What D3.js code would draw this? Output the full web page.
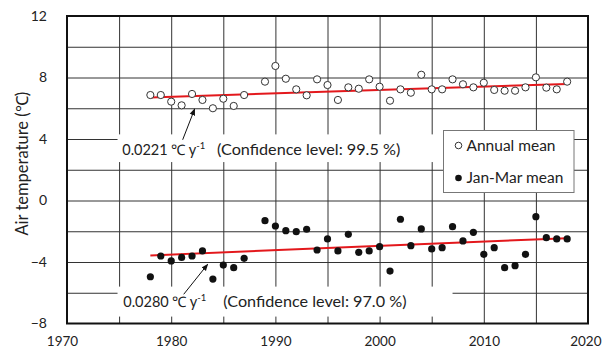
<!DOCTYPE html>
<html>
<head>
<meta charset="utf-8">
<script src="https://cdn.jsdelivr.net/npm/d3@7"></script>
<style>
  html, body { margin: 0; padding: 0; background: #fff; }
  svg text { font-family: Lato, "Open Sans", sans-serif; fill: #222; }
</style>
</head>
<body>
<svg id="chart" width="603" height="354"></svg>
<script>
// Observation years (1988 has no record)
const years = [1978, 1979, 1980, 1981, 1982, 1983, 1984, 1985, 1986, 1987,
               1989, 1990, 1991, 1992, 1993, 1994, 1995, 1996, 1997, 1998,
               1999, 2000, 2001, 2002, 2003, 2004, 2005, 2006, 2007, 2008,
               2009, 2010, 2011, 2012, 2013, 2014, 2015, 2016, 2017, 2018];

// Annual mean air temperature (°C)
const annualMean = [6.86, 6.86, 6.43, 6.19, 6.93, 6.54, 6.00, 6.62, 6.15, 6.86,
                    7.73, 8.75, 7.92, 7.23, 6.84, 7.88, 7.51, 6.54, 7.36, 7.27,
                    7.88, 7.40, 6.49, 7.23, 7.01, 8.18, 7.23, 7.23, 7.88, 7.56,
                    7.36, 7.66, 7.19, 7.14, 7.14, 7.36, 8.01, 7.34, 7.23, 7.73];

// January–March mean air temperature (°C)
const janMarMean = [-4.96, -3.61, -3.93, -3.70, -3.61, -3.28, -5.11, -4.20, -4.37, -3.76,
                    -1.31, -1.66, -1.96, -2.03, -1.87, -3.22, -2.50, -3.28, -2.20, -3.37,
                    -3.28, -3.00, -4.59, -1.22, -2.94, -1.85, -3.15, -3.07, -1.70, -2.63,
                    -2.07, -3.50, -3.07, -4.37, -4.24, -3.50, -1.05, -2.42, -2.50, -2.50];

// Linear trends: slope (°C per year) and fitted value in the first year
const trendSlopes = [0.0221, 0.0280];
const trendStart = [6.70, -3.57];
const confidence = ["99.5", "97.0"];

const seriesNames = ["Annual mean", "Jan-Mar mean"];
const yTickLabels = [-8, -4, 0, 4, 8, 12];
const xTickLabels = [1970, 1980, 1990, 2000, 2010, 2020];

const svg = d3.select("#chart");
const plotLeft = 67, plotRight = 588, plotTop = 16, plotBottom = 323.5;

const x = d3.scaleLinear().domain([1970, 2020]).range([plotLeft, plotRight]);
const y = d3.scaleLinear().domain([-8, 12]).range([plotBottom, plotTop]);

// Grid lines
const grid = svg.append("g");
grid.append("g")
  .attr("transform", `translate(0,${plotBottom})`)
  .call(d3.axisBottom(x).tickValues(d3.range(1975, 2020, 5)).tickSize(-(plotBottom - plotTop)).tickFormat(""))
  .call(g => g.select(".domain").remove())
  .call(g => g.selectAll("line").attr("stroke", "#333").attr("stroke-width", 1));
grid.append("g")
  .attr("transform", `translate(${plotLeft},0)`)
  .call(d3.axisLeft(y).tickValues(d3.range(-6, 12, 2)).tickSize(-(plotRight - plotLeft)).tickFormat(""))
  .call(g => g.select(".domain").remove())
  .call(g => g.selectAll("line").attr("stroke", "#333").attr("stroke-width", 1));

// Axis labels
svg.append("g")
  .attr("transform", `translate(${plotLeft},0)`)
  .call(d3.axisLeft(y).tickValues(yTickLabels).tickSize(0).tickPadding(20).tickFormat(d3.format("d")))
  .call(g => g.select(".domain").remove())
  .call(g => g.selectAll("text").style("font-size", "14px").attr("fill", "#222"));
svg.append("g")
  .attr("transform", `translate(0,${plotBottom})`)
  .call(d3.axisBottom(x).tickValues(xTickLabels).tickSize(0).tickPadding(13).tickFormat(d3.format("d")))
  .call(g => g.select(".domain").remove())
  .call(g => g.selectAll("text").style("font-size", "13.5px").attr("fill", "#222"))
  // keep the outermost year labels inside the page
  .call(g => g.selectAll("text").filter(d => d === xTickLabels[0]).attr("dx", -5))
  .call(g => g.selectAll("text").filter(d => d === xTickLabels[xTickLabels.length - 1])
    .attr("text-anchor", "end").attr("dx", 13));

svg.append("text")
  .attr("transform", `translate(28,${(plotTop + plotBottom) / 2 - 6}) rotate(-90)`)
  .attr("text-anchor", "middle")
  .style("font-size", "16.5px")
  .text("Air temperature (℃)");

// White label boxes for trend annotations
const labelBoxes = [
  { x0: 1974.85, x1: 2006.8, y0: 4.3, y1: 2.5 },
  { x0: 1974.85, x1: 2007.0, y0: -5.6, y1: -7.55 }
];
svg.append("g").selectAll("rect").data(labelBoxes).join("rect")
  .attr("x", d => x(d.x0)).attr("width", d => x(d.x1) - x(d.x0))
  .attr("y", d => y(d.y0)).attr("height", d => y(d.y1) - y(d.y0))
  .attr("fill", "#fff");

// Trend lines
const firstYear = years[0], lastYear = years[years.length - 1];
const trendLine = d3.line().x(d => x(d[0])).y(d => y(d[1]));
trendSlopes.forEach((s, i) => {
  svg.append("path")
    .attr("d", trendLine([[firstYear, trendStart[i]], [lastYear, trendStart[i] + s * (lastYear - firstYear)]]))
    .attr("stroke", "#e3181c").attr("stroke-width", 2).attr("fill", "none");
});

// Data points
const r = 3.6;
svg.append("g").selectAll("circle").data(years).join("circle")
  .attr("cx", d => x(d)).attr("cy", (d, i) => y(annualMean[i])).attr("r", r)
  .attr("fill", "#fff").attr("stroke", "#333").attr("stroke-width", 1);
svg.append("g").selectAll("circle").data(years).join("circle")
  .attr("cx", d => x(d)).attr("cy", (d, i) => y(janMarMean[i])).attr("r", r)
  .attr("fill", "#111");

// Arrows and trend annotations
const defs = svg.append("defs");
defs.append("marker").attr("id", "arrowhead")
  .attr("viewBox", "0 0 10 10").attr("refX", 9).attr("refY", 5)
  .attr("markerWidth", 7).attr("markerHeight", 7).attr("orient", "auto")
  .append("path").attr("d", "M0,1 L10,5 L0,9 Z").attr("fill", "#111");

const notes = [
  { from: [1981.1, 3.95], to: [1982.25, 5.95], tx: 1975.3, ty: 2.96, cx: 1984.4 },
  { from: [1981.2, -6.1], to: [1983.5, -4.15], tx: 1975.4, ty: -6.93, cx: 1985.0 }
];
notes.forEach((n, i) => {
  svg.append("line")
    .attr("x1", x(n.from[0])).attr("y1", y(n.from[1]))
    .attr("x2", x(n.to[0])).attr("y2", y(n.to[1]))
    .attr("stroke", "#111").attr("stroke-width", 1)
    .attr("marker-end", "url(#arrowhead)");
  const t = svg.append("text")
    .attr("x", x(n.tx)).attr("y", y(n.ty))
    .style("font-size", "14.5px");
  t.append("tspan").text(`${trendSlopes[i].toFixed(4)} ℃ y`);
  t.append("tspan").attr("dy", -6).style("font-size", "9.5px").text("-1");
  svg.append("text")
    .attr("x", x(n.cx)).attr("y", y(n.ty))
    .style("font-size", "16.2px")
    .text(`(Confidence level: ${confidence[i]} %)`);
});

// Legend
const legend = svg.append("g");
legend.append("rect")
  .attr("x", 443.5).attr("y", 130.5).attr("width", 130.5).attr("height", 62)
  .attr("fill", "#fff").attr("stroke", "#777").attr("stroke-width", 1);
seriesNames.forEach((name, i) => {
  const cy = 145.5 + i * 32.5;
  legend.append("circle").attr("cx", 458.5).attr("cy", cy).attr("r", 3.3)
    .attr("fill", i === 0 ? "#fff" : "#111").attr("stroke", i === 0 ? "#333" : "none");
  legend.append("text").attr("x", 466.5).attr("y", cy + 5)
    .style("font-size", "15.5px").text(name);
});

// Plot frame
svg.append("rect")
  .attr("x", plotLeft).attr("y", plotTop).attr("width", plotRight - plotLeft).attr("height", plotBottom - plotTop)
  .attr("fill", "none").attr("stroke", "#111").attr("stroke-width", 2);
</script>
</body>
</html>
